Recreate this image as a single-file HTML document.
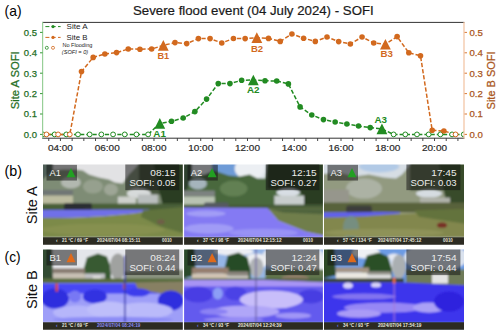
<!DOCTYPE html>
<html><head><meta charset="utf-8"><style>
html,body{margin:0;padding:0;background:#fff;}
body{width:500px;height:335px;overflow:hidden;}
svg{display:block;font-family:"Liberation Sans",sans-serif;}
</style></head><body>
<svg width="500" height="335" viewBox="0 0 500 335">
<rect width="500" height="335" fill="#fff"/>
<defs><filter id="pb" x="-5%" y="-5%" width="110%" height="110%"><feGaussianBlur stdDeviation="1.1"/></filter>
<clipPath id="c00"><rect x="43.0" y="164.5" width="139.8" height="80.2"/></clipPath>
<clipPath id="c01"><rect x="184.1" y="164.5" width="138.8" height="80.2"/></clipPath>
<clipPath id="c02"><rect x="324.0" y="164.5" width="140.0" height="80.2"/></clipPath>
<clipPath id="c10"><rect x="43.0" y="249.4" width="139.8" height="80.3"/></clipPath>
<clipPath id="c11"><rect x="184.1" y="249.4" width="138.8" height="80.3"/></clipPath>
<clipPath id="c12"><rect x="324.0" y="249.4" width="140.0" height="80.3"/></clipPath>
</defs>
<g clip-path="url(#c00)">
<g transform="translate(43.0,164.5) scale(0.9986,1.0025)">
<g filter="url(#pb)"><rect x="-6" y="-6" width="152" height="86" fill="rgb(226,226,228)" /><polygon points="-6,-6 10,-6 10,30 -6,30" fill="rgb(80,95,88)" /><polygon points="10,6 20,5 33,5 40,6 46,10 56,13 66,15 72,18 80,19 86,10 92,4 100,-6 146,-6 146,48 -6,48 -6,20" fill="rgb(126,140,116)" /><ellipse cx="28" cy="18" rx="10" ry="6" fill="rgb(178,184,176)" /><ellipse cx="50" cy="22" rx="10" ry="7" fill="rgb(150,160,142)" /><ellipse cx="68" cy="25" rx="7" ry="6" fill="rgb(158,166,150)" /><polygon points="96,-6 146,-6 146,30 96,30" fill="rgb(70,85,62)" /><polygon points="110,-6 146,-6 146,56 122,50 116,25" fill="rgb(42,62,36)" /><ellipse cx="96" cy="29" rx="12" ry="5" fill="rgb(215,218,218)" /><rect x="-6" y="25.5" width="36" height="5.5" fill="rgb(112,118,116)" /><rect x="-6" y="31" width="36" height="9" fill="rgb(188,188,160)" /><rect x="75" y="32" width="18" height="10" fill="rgb(205,208,204)" /><rect x="95" y="30" width="20" height="12" fill="rgb(185,190,190)" /><rect x="-6" y="39" width="152" height="7" fill="rgb(72,95,55)" /><rect x="21" y="38.5" width="28" height="7.5" fill="rgb(42,45,50)" rx="2"/><polygon points="-6,45.5 70,44.8 106,45 108,46.5 90,49 60,51.5 30,53 -6,54" fill="rgb(112,112,232)" /><polygon points="-6,53 30,53 60,51.5 90,49 108,46.5 146,44 146,73 -6,73" fill="rgb(124,138,74)" /><ellipse cx="60" cy="65" rx="62" ry="6" fill="rgb(134,144,80)" /><polygon points="100,46 146,42 146,70 118,62 98,52" fill="rgb(96,115,60)" /><ellipse cx="118" cy="57" rx="4" ry="2.5" fill="rgb(110,95,70)" /></g>
<rect x="-6" y="72.6" width="152" height="10" fill="rgb(44,43,34)" />
<rect x="3.5" y="0.2" width="30.5" height="15.8" fill="rgba(18,18,18,0.52)"/>
<rect x="82.4" y="-1" width="54" height="26.6" fill="rgba(18,18,18,0.52)"/>
</g>
</g>
<text x="49.6" y="175.9" font-size="9.8" fill="#f0f0f0" textLength="11.5" lengthAdjust="spacingAndGlyphs">A1</text>
<polygon points="71.0,168.0 66.5,177.3 75.5,177.3" fill="#22a022"/>
<text x="175.6" y="175.9" text-anchor="end" font-size="9.8" fill="#ececec" textLength="25.3" lengthAdjust="spacingAndGlyphs">08:15</text>
<text x="175.6" y="186.3" text-anchor="end" font-size="9.8" fill="#ececec" textLength="46.2" lengthAdjust="spacingAndGlyphs">SOFI: 0.05</text>
<text x="61.9" y="242.4" font-size="4.7" font-weight="bold" fill="#e6e6dc" textLength="26" lengthAdjust="spacingAndGlyphs">21 °C / 69 °F</text>
<text x="96.9" y="242.4" font-size="4.7" font-weight="bold" fill="#e6e6dc" textLength="43.6" lengthAdjust="spacingAndGlyphs">2024/07/04 08:15:11</text>
<text x="56.0" y="242.4" font-size="4.7" font-weight="bold" fill="#e6e6dc">‹</text>
<text x="162.0" y="242.4" font-size="4.7" font-weight="bold" fill="#e6e6dc" textLength="9.8" lengthAdjust="spacingAndGlyphs">0010</text>
<g clip-path="url(#c01)">
<g transform="translate(184.1,164.5) scale(0.9914,1.0025)">
<g filter="url(#pb)"><rect x="-6" y="-6" width="152" height="86" fill="rgb(225,230,236)" /><rect x="28" y="-6" width="27" height="18" fill="rgb(110,155,215)" /><ellipse cx="66" cy="4" rx="15" ry="11" fill="rgb(236,239,243)" /><polygon points="-6,-6 8,-6 8,40 -6,40" fill="rgb(45,65,45)" /><polygon points="8,12 21,10 30,6 36,8 45,11 56,12 66,10 74,14 82,14 84,-6 146,-6 146,46 -6,46" fill="rgb(72,104,62)" /><ellipse cx="14" cy="19" rx="9" ry="6" fill="rgb(165,180,188)" /><ellipse cx="50" cy="24" rx="14" ry="8" fill="rgb(98,128,82)" /><polygon points="84,-6 146,-6 146,56 124,50 118,28 84,24" fill="rgb(42,60,36)" /><ellipse cx="105" cy="28" rx="12" ry="4" fill="rgb(216,222,228)" /><rect x="-6" y="26" width="37" height="6" fill="rgb(125,130,128)" /><rect x="-6" y="32" width="37" height="9" fill="rgb(185,195,178)" /><rect x="91" y="31" width="30" height="12" fill="rgb(200,205,205)" /><rect x="-6" y="40" width="152" height="4" fill="rgb(70,92,56)" /><rect x="20" y="38" width="25" height="7" fill="rgb(85,90,96)" rx="2"/><polygon points="84,43.5 146,43.5 146,72 123,67 95,56" fill="rgb(112,126,76)" /><polygon points="84,44 146,44 146,50 100,48" fill="rgb(80,100,60)" /><polygon points="-6,43 84,43.5 95,56 123,67 146,72 146,73 -6,73" fill="rgb(132,122,243)" /><ellipse cx="22" cy="49" rx="20" ry="3" fill="rgb(162,157,246)" /><ellipse cx="25" cy="64" rx="25" ry="5" fill="rgb(160,155,246)" /><ellipse cx="80" cy="68" rx="35" ry="4" fill="rgb(152,146,245)" /></g>
<rect x="-6" y="72.6" width="152" height="10" fill="rgb(44,43,34)" />
<rect x="3.5" y="0.2" width="30.5" height="15.8" fill="rgba(18,18,18,0.52)"/>
<rect x="82.4" y="-1" width="54" height="26.6" fill="rgba(18,18,18,0.52)"/>
</g>
</g>
<text x="190.7" y="175.9" font-size="9.8" fill="#f0f0f0" textLength="11.5" lengthAdjust="spacingAndGlyphs">A2</text>
<polygon points="212.1,168.0 207.6,177.3 216.6,177.3" fill="#22a022"/>
<text x="316.7" y="175.9" text-anchor="end" font-size="9.8" fill="#ececec" textLength="25.3" lengthAdjust="spacingAndGlyphs">12:15</text>
<text x="316.7" y="186.3" text-anchor="end" font-size="9.8" fill="#ececec" textLength="46.2" lengthAdjust="spacingAndGlyphs">SOFI: 0.27</text>
<text x="203.0" y="242.4" font-size="4.7" font-weight="bold" fill="#e6e6dc" textLength="26" lengthAdjust="spacingAndGlyphs">37 °C / 98 °F</text>
<text x="238.0" y="242.4" font-size="4.7" font-weight="bold" fill="#e6e6dc" textLength="43.6" lengthAdjust="spacingAndGlyphs">2024/07/04 12:15:12</text>
<text x="197.1" y="242.4" font-size="4.7" font-weight="bold" fill="#e6e6dc">‹</text>
<text x="303.1" y="242.4" font-size="4.7" font-weight="bold" fill="#e6e6dc" textLength="9.8" lengthAdjust="spacingAndGlyphs">0010</text>
<g clip-path="url(#c02)">
<g transform="translate(324.0,164.5) scale(1.0000,1.0025)">
<g filter="url(#pb)"><rect x="-6" y="-6" width="152" height="86" fill="rgb(214,221,228)" /><ellipse cx="55" cy="2" rx="20" ry="6" fill="rgb(178,202,230)" /><polygon points="-6,10 15,8 30,12 45,10 60,13 72,14 78,10 84,3 90,-6 146,-6 146,48 -6,48" fill="rgb(146,154,128)" /><ellipse cx="40" cy="24" rx="18" ry="10" fill="rgb(172,178,164)" /><polygon points="86,-6 146,-6 146,26 86,26" fill="rgb(90,104,76)" /><polygon points="114,-6 146,-6 146,56 126,52 120,28" fill="rgb(56,76,44)" /><ellipse cx="105" cy="29" rx="13" ry="4" fill="rgb(214,220,225)" /><rect x="-6" y="25" width="31" height="13" fill="rgb(150,150,140)" /><rect x="96" y="33" width="30" height="12" fill="rgb(176,178,170)" /><rect x="-6" y="38" width="152" height="10" fill="rgb(88,98,58)" /><rect x="22" y="41" width="26" height="8" fill="rgb(60,62,58)" rx="3"/><polygon points="-6,52 70,49 146,47.5 146,73 -6,73" fill="rgb(130,135,78)" /><polygon points="90,46 146,44 146,60 95,52" fill="rgb(100,115,60)" /><polygon points="-6,47.8 60,47.3 76,47.6 76,48.8 40,51.5 -6,52.8" fill="rgb(96,96,236)" /><ellipse cx="27" cy="63" rx="8" ry="12" fill="rgb(118,142,128)" /><ellipse cx="60" cy="68" rx="60" ry="4" fill="rgb(142,146,88)" /><ellipse cx="118" cy="60.5" rx="5" ry="2.6" fill="rgb(120,45,40)" /></g>
<rect x="-6" y="72.6" width="152" height="10" fill="rgb(44,43,34)" />
<rect x="3.5" y="0.2" width="30.5" height="15.8" fill="rgba(18,18,18,0.52)"/>
<rect x="82.4" y="-1" width="54" height="26.6" fill="rgba(18,18,18,0.52)"/>
</g>
</g>
<text x="330.6" y="175.9" font-size="9.8" fill="#f0f0f0" textLength="11.5" lengthAdjust="spacingAndGlyphs">A3</text>
<polygon points="352.0,168.0 347.5,177.3 356.5,177.3" fill="#22a022"/>
<text x="456.6" y="175.9" text-anchor="end" font-size="9.8" fill="#ececec" textLength="25.3" lengthAdjust="spacingAndGlyphs">17:45</text>
<text x="456.6" y="186.3" text-anchor="end" font-size="9.8" fill="#ececec" textLength="46.2" lengthAdjust="spacingAndGlyphs">SOFI: 0.03</text>
<text x="342.9" y="242.4" font-size="4.7" font-weight="bold" fill="#e6e6dc" textLength="29" lengthAdjust="spacingAndGlyphs">57 °C / 134 °F</text>
<text x="377.9" y="242.4" font-size="4.7" font-weight="bold" fill="#e6e6dc" textLength="43.6" lengthAdjust="spacingAndGlyphs">2024/07/04 17:45:12</text>
<text x="337.0" y="242.4" font-size="4.7" font-weight="bold" fill="#e6e6dc">‹</text>
<text x="443.0" y="242.4" font-size="4.7" font-weight="bold" fill="#e6e6dc" textLength="9.8" lengthAdjust="spacingAndGlyphs">0010</text>
<g clip-path="url(#c10)">
<g transform="translate(43.0,249.4) scale(0.9986,1.0037)">
<g filter="url(#pb)"><rect x="-6" y="-6" width="152" height="86" fill="rgb(228,230,234)" /><polygon points="-6,-6 9,-6 10,30 -6,32" fill="rgb(50,75,50)" /><polygon points="40,22 44,8 55,4 64,7 68,18 68,30 40,30" fill="rgb(56,90,50)" /><ellipse cx="75" cy="17" rx="8" ry="13" fill="rgb(160,162,160)" /><rect x="10" y="19" width="32" height="5" fill="rgb(135,122,112)" /><rect x="10" y="24" width="32" height="8" fill="rgb(200,192,180)" /><rect x="42" y="24" width="20" height="8" fill="rgb(192,192,196)" /><rect x="50" y="27" width="8" height="5" fill="rgb(235,235,235)" /><polygon points="82,22 146,20 146,34 82,34" fill="rgb(140,148,130)" /><rect x="-6" y="29" width="152" height="5" fill="rgb(88,108,62)" /><polygon points="-6,34 92,33.5 146,35 146,73 -6,73" fill="rgb(158,158,248)" /><rect x="-6" y="34" width="152" height="10" fill="rgb(70,70,244)" /><polygon points="92,33 146,32 146,46 118,44 95,40" fill="rgb(135,128,100)" /><ellipse cx="12" cy="49" rx="14" ry="10" fill="rgb(45,45,222)" /><ellipse cx="52" cy="47" rx="12" ry="7" fill="rgb(48,48,225)" /><ellipse cx="95" cy="43" rx="12" ry="4" fill="rgb(60,60,236)" /><ellipse cx="128" cy="51" rx="13" ry="10" fill="rgb(45,45,222)" /><ellipse cx="32" cy="47" rx="6" ry="6" fill="rgb(120,120,244)" /><ellipse cx="100" cy="61" rx="30" ry="8" fill="rgb(186,186,250)" /><ellipse cx="35" cy="63" rx="25" ry="7" fill="rgb(182,182,250)" /><ellipse cx="66" cy="60" rx="22" ry="8" fill="rgb(190,190,250)" /><ellipse cx="70" cy="70" rx="60" ry="3" fill="rgb(140,140,246)" /><rect x="12.5" y="34" width="2.5" height="8" fill="rgb(215,75,40)" /><rect x="80.5" y="34" width="2.5" height="6" fill="rgb(230,100,50)" /><rect x="81.3" y="6" width="1.4" height="67" fill="rgb(50,50,170)" /></g>
<rect x="-6" y="72.6" width="152" height="10" fill="rgb(44,43,34)" />
<rect x="3.5" y="0.2" width="30.5" height="15.8" fill="rgba(18,18,18,0.52)"/>
<rect x="82.4" y="-1" width="54" height="26.6" fill="rgba(18,18,18,0.52)"/>
</g>
</g>
<text x="49.6" y="260.8" font-size="9.8" fill="#f0f0f0" textLength="11.5" lengthAdjust="spacingAndGlyphs">B1</text>
<polygon points="71.0,252.9 66.5,262.2 75.5,262.2" fill="#e06a1a"/>
<text x="175.6" y="260.8" text-anchor="end" font-size="9.8" fill="#ececec" textLength="25.3" lengthAdjust="spacingAndGlyphs">08:24</text>
<text x="175.6" y="271.2" text-anchor="end" font-size="9.8" fill="#ececec" textLength="46.2" lengthAdjust="spacingAndGlyphs">SOFI: 0.44</text>
<text x="61.9" y="327.3" font-size="4.7" font-weight="bold" fill="#e6e6dc" textLength="26" lengthAdjust="spacingAndGlyphs">21 °C / 69 °F</text>
<text x="96.9" y="327.3" font-size="4.7" font-weight="bold" fill="#8a8af0" textLength="43.6" lengthAdjust="spacingAndGlyphs">2024/07/04 08:24:19</text>
<text x="56.0" y="327.3" font-size="4.7" font-weight="bold" fill="#7c7cf0">‹</text>
<g clip-path="url(#c11)">
<g transform="translate(184.1,249.4) scale(0.9914,1.0037)">
<g filter="url(#pb)"><rect x="-6" y="-6" width="152" height="86" fill="rgb(150,182,230)" /><ellipse cx="110" cy="8" rx="32" ry="14" fill="rgb(222,228,238)" /><ellipse cx="50" cy="2" rx="20" ry="4" fill="rgb(236,238,244)" /><ellipse cx="72" cy="12" rx="12" ry="8" fill="rgb(236,238,242)" /><ellipse cx="133" cy="18" rx="10" ry="14" fill="rgb(236,238,242)" /><ellipse cx="73" cy="18" rx="7" ry="10" fill="rgb(175,178,182)" /><polygon points="-6,-6 10,-6 12,26 -6,30" fill="rgb(42,72,42)" /><polygon points="40,22 44,6 55,3 64,8 67,20 67,31 40,31" fill="rgb(40,76,38)" /><polygon points="82,20 146,20 146,36 82,36" fill="rgb(98,118,78)" /><ellipse cx="112" cy="29" rx="14" ry="4" fill="rgb(145,125,105)" /><rect x="8" y="18" width="37" height="6" fill="rgb(150,126,110)" /><rect x="8" y="24" width="37" height="7" fill="rgb(210,196,180)" /><rect x="43" y="22" width="22" height="4" fill="rgb(140,132,126)" /><rect x="43" y="26" width="22" height="5" fill="rgb(205,200,195)" /><rect x="-6" y="29" width="152" height="2" fill="rgb(72,95,60)" /><polygon points="-6,30.5 80,30.5 146,33 146,73 -6,73" fill="rgb(100,90,238)" /><polygon points="-6,30.5 80,30.5 146,33 146,37 -6,37" fill="rgb(168,148,244)" /><ellipse cx="14" cy="45" rx="15" ry="8" fill="rgb(72,62,228)" /><ellipse cx="52" cy="44" rx="11" ry="7" fill="rgb(76,66,230)" /><ellipse cx="128" cy="47" rx="13" ry="7" fill="rgb(70,60,226)" /><ellipse cx="34" cy="44" rx="5" ry="6" fill="rgb(140,158,246)" /><ellipse cx="88" cy="50" rx="32" ry="9" fill="rgb(200,190,250)" /><ellipse cx="62" cy="62" rx="34" ry="6" fill="rgb(176,166,248)" /><ellipse cx="30" cy="62" rx="14" ry="3" fill="rgb(140,130,244)" /><ellipse cx="110" cy="66" rx="18" ry="3" fill="rgb(160,150,246)" /><ellipse cx="50" cy="70" rx="30" ry="2.5" fill="rgb(150,140,245)" /><rect x="72" y="-6" width="1" height="79" fill="rgb(90,80,150)" /></g>
<rect x="-6" y="72.6" width="152" height="10" fill="rgb(44,43,34)" />
<rect x="3.5" y="0.2" width="30.5" height="15.8" fill="rgba(18,18,18,0.52)"/>
<rect x="82.4" y="-1" width="54" height="26.6" fill="rgba(18,18,18,0.52)"/>
</g>
</g>
<text x="190.7" y="260.8" font-size="9.8" fill="#f0f0f0" textLength="11.5" lengthAdjust="spacingAndGlyphs">B2</text>
<polygon points="212.1,252.9 207.6,262.2 216.6,262.2" fill="#e06a1a"/>
<text x="316.7" y="260.8" text-anchor="end" font-size="9.8" fill="#ececec" textLength="25.3" lengthAdjust="spacingAndGlyphs">12:24</text>
<text x="316.7" y="271.2" text-anchor="end" font-size="9.8" fill="#ececec" textLength="46.2" lengthAdjust="spacingAndGlyphs">SOFI: 0.47</text>
<text x="203.0" y="327.3" font-size="4.7" font-weight="bold" fill="#e6e6dc" textLength="26" lengthAdjust="spacingAndGlyphs">34 °C / 93 °F</text>
<text x="238.0" y="327.3" font-size="4.7" font-weight="bold" fill="#e6e6dc" textLength="43.6" lengthAdjust="spacingAndGlyphs">2024/07/04 12:24:39</text>
<text x="197.1" y="327.3" font-size="4.7" font-weight="bold" fill="#7c7cf0">‹</text>
<g clip-path="url(#c12)">
<g transform="translate(324.0,249.4) scale(1.0000,1.0037)">
<g filter="url(#pb)"><rect x="-6" y="-6" width="152" height="86" fill="rgb(108,155,228)" /><ellipse cx="112" cy="8" rx="32" ry="14" fill="rgb(218,226,238)" /><ellipse cx="42" cy="3" rx="14" ry="6" fill="rgb(238,240,244)" /><ellipse cx="70" cy="13" rx="10" ry="9" fill="rgb(228,232,242)" /><ellipse cx="60" cy="12" rx="8" ry="5" fill="rgb(200,215,238)" /><polygon points="-6,-6 10,-6 12,26 -6,30" fill="rgb(45,72,40)" /><polygon points="38,20 43,6 55,3 64,7 68,20 68,31 38,31" fill="rgb(42,80,40)" /><ellipse cx="75" cy="17" rx="7" ry="12" fill="rgb(170,175,178)" /><polygon points="82,20 146,20 146,40 82,40" fill="rgb(110,122,88)" /><rect x="108" y="24" width="16" height="10" fill="rgb(228,228,228)" /><rect x="12" y="18" width="33" height="5" fill="rgb(165,148,132)" /><rect x="12" y="23" width="33" height="8" fill="rgb(235,232,225)" /><rect x="43" y="22" width="24" height="3" fill="rgb(150,145,140)" /><rect x="43" y="25" width="24" height="6" fill="rgb(225,225,225)" /><rect x="-6" y="29" width="86" height="4" fill="rgb(55,65,42)" /><polygon points="-6,33 80,33 146,36 146,73 -6,73" fill="rgb(62,52,236)" /><ellipse cx="24" cy="36" rx="5" ry="3" fill="rgb(215,210,250)" /><ellipse cx="52" cy="35.5" rx="5" ry="2.5" fill="rgb(215,210,250)" /><ellipse cx="40" cy="47" rx="32" ry="3" fill="rgb(130,115,240)" /><ellipse cx="60" cy="58" rx="40" ry="5" fill="rgb(150,135,245)" /><ellipse cx="35" cy="64" rx="22" ry="4" fill="rgb(170,155,246)" /><ellipse cx="105" cy="58" rx="16" ry="5" fill="rgb(170,160,246)" /><ellipse cx="125" cy="52" rx="15" ry="10" fill="rgb(45,35,222)" /><rect x="69.7" y="28" width="1" height="45" fill="rgb(170,120,210)" /><rect x="69" y="28" width="2.4" height="6" fill="rgb(235,110,60)" /></g>
<rect x="-6" y="72.6" width="152" height="10" fill="rgb(44,43,34)" />
<rect x="3.5" y="0.2" width="30.5" height="15.8" fill="rgba(18,18,18,0.52)"/>
<rect x="82.4" y="-1" width="54" height="26.6" fill="rgba(18,18,18,0.52)"/>
</g>
</g>
<text x="330.6" y="260.8" font-size="9.8" fill="#f0f0f0" textLength="11.5" lengthAdjust="spacingAndGlyphs">B3</text>
<polygon points="352.0,252.9 347.5,262.2 356.5,262.2" fill="#e06a1a"/>
<text x="456.6" y="260.8" text-anchor="end" font-size="9.8" fill="#ececec" textLength="25.3" lengthAdjust="spacingAndGlyphs">17:54</text>
<text x="456.6" y="271.2" text-anchor="end" font-size="9.8" fill="#ececec" textLength="46.2" lengthAdjust="spacingAndGlyphs">SOFI: 0.44</text>
<text x="342.9" y="327.3" font-size="4.7" font-weight="bold" fill="#e6e6dc" textLength="26" lengthAdjust="spacingAndGlyphs">34 °C / 93 °F</text>
<text x="377.9" y="327.3" font-size="4.7" font-weight="bold" fill="#e6e6dc" textLength="43.6" lengthAdjust="spacingAndGlyphs">2024/07/04 17:54:19</text>
<text x="337.0" y="327.3" font-size="4.7" font-weight="bold" fill="#7c7cf0">‹</text>
<defs><clipPath id="ax"><rect x="42.5" y="22" width="421.5" height="116"/></clipPath></defs>
<g clip-path="url(#ax)">
<polyline points="42.92,134.40 54.61,134.40 66.30,134.40 77.98,134.40 89.67,134.40 101.37,134.40 113.06,134.40 124.75,134.40 136.44,134.40 148.12,134.40 159.81,123.40 171.50,121.30 183.19,118.00 194.88,111.60 206.57,99.10 218.26,83.60 229.95,83.60 241.64,80.30 253.33,79.95 265.02,80.80 276.71,81.00 288.40,83.90 300.09,106.90 311.78,115.00 323.47,119.60 335.16,122.00 346.85,124.00 358.54,126.00 370.23,127.60 381.92,128.90 393.61,134.40 405.30,134.40 416.99,134.40 428.68,134.40 440.38,134.40 452.06,134.40 463.75,134.40" fill="none" stroke="#228B22" stroke-width="1.5" stroke-dasharray="4.2 2"/>
<polyline points="46.42,134.40 58.11,134.40 69.80,134.40 81.49,71.60 93.18,57.40 104.87,54.00 116.56,52.60 128.25,49.00 139.94,49.20 151.63,49.00 163.32,45.40 175.01,42.60 186.70,43.60 198.39,38.60 210.08,38.60 221.77,43.00 233.46,38.50 245.15,38.60 256.84,37.65 268.53,38.40 280.22,41.40 291.91,34.00 303.60,38.20 315.29,41.40 326.98,37.00 338.67,41.60 350.36,44.00 362.05,37.00 373.74,43.00 385.43,44.25 397.12,36.60 408.81,52.80 420.50,55.80 432.19,130.30 443.88,131.00 455.57,134.40" fill="none" stroke="#D2691E" stroke-width="1.5" stroke-dasharray="4.2 2"/>
<circle cx="42.92" cy="134.40" r="2.4" fill="#fff" stroke="#228B22" stroke-width="1"/>
<circle cx="54.61" cy="134.40" r="2.4" fill="#fff" stroke="#228B22" stroke-width="1"/>
<circle cx="66.30" cy="134.40" r="2.4" fill="#fff" stroke="#228B22" stroke-width="1"/>
<circle cx="77.98" cy="134.40" r="2.4" fill="#fff" stroke="#228B22" stroke-width="1"/>
<circle cx="89.67" cy="134.40" r="2.4" fill="#fff" stroke="#228B22" stroke-width="1"/>
<circle cx="101.37" cy="134.40" r="2.4" fill="#fff" stroke="#228B22" stroke-width="1"/>
<circle cx="113.06" cy="134.40" r="2.4" fill="#fff" stroke="#228B22" stroke-width="1"/>
<circle cx="124.75" cy="134.40" r="2.4" fill="#fff" stroke="#228B22" stroke-width="1"/>
<circle cx="136.44" cy="134.40" r="2.4" fill="#fff" stroke="#228B22" stroke-width="1"/>
<circle cx="148.12" cy="134.40" r="2.4" fill="#fff" stroke="#228B22" stroke-width="1"/>
<circle cx="393.61" cy="134.40" r="2.4" fill="#fff" stroke="#228B22" stroke-width="1"/>
<circle cx="405.30" cy="134.40" r="2.4" fill="#fff" stroke="#228B22" stroke-width="1"/>
<circle cx="416.99" cy="134.40" r="2.4" fill="#fff" stroke="#228B22" stroke-width="1"/>
<circle cx="428.68" cy="134.40" r="2.4" fill="#fff" stroke="#228B22" stroke-width="1"/>
<circle cx="440.38" cy="134.40" r="2.4" fill="#fff" stroke="#228B22" stroke-width="1"/>
<circle cx="452.06" cy="134.40" r="2.4" fill="#fff" stroke="#228B22" stroke-width="1"/>
<circle cx="463.75" cy="134.40" r="2.4" fill="#fff" stroke="#228B22" stroke-width="1"/>
<circle cx="46.42" cy="134.40" r="2.4" fill="#fff" stroke="#D2691E" stroke-width="1"/>
<circle cx="58.11" cy="134.40" r="2.4" fill="#fff" stroke="#D2691E" stroke-width="1"/>
<circle cx="69.80" cy="134.40" r="2.4" fill="#fff" stroke="#D2691E" stroke-width="1"/>
<circle cx="455.57" cy="134.40" r="2.4" fill="#fff" stroke="#D2691E" stroke-width="1"/>
<circle cx="171.50" cy="121.30" r="2.8" fill="#228B22"/>
<circle cx="183.19" cy="118.00" r="2.8" fill="#228B22"/>
<circle cx="194.88" cy="111.60" r="2.8" fill="#228B22"/>
<circle cx="206.57" cy="99.10" r="2.8" fill="#228B22"/>
<circle cx="218.26" cy="83.60" r="2.8" fill="#228B22"/>
<circle cx="229.95" cy="83.60" r="2.8" fill="#228B22"/>
<circle cx="241.64" cy="80.30" r="2.8" fill="#228B22"/>
<circle cx="265.02" cy="80.80" r="2.8" fill="#228B22"/>
<circle cx="276.71" cy="81.00" r="2.8" fill="#228B22"/>
<circle cx="288.40" cy="83.90" r="2.8" fill="#228B22"/>
<circle cx="300.09" cy="106.90" r="2.8" fill="#228B22"/>
<circle cx="311.78" cy="115.00" r="2.8" fill="#228B22"/>
<circle cx="323.47" cy="119.60" r="2.8" fill="#228B22"/>
<circle cx="335.16" cy="122.00" r="2.8" fill="#228B22"/>
<circle cx="346.85" cy="124.00" r="2.8" fill="#228B22"/>
<circle cx="358.54" cy="126.00" r="2.8" fill="#228B22"/>
<circle cx="370.23" cy="127.60" r="2.8" fill="#228B22"/>
<circle cx="81.49" cy="71.60" r="2.8" fill="#D2691E"/>
<circle cx="93.18" cy="57.40" r="2.8" fill="#D2691E"/>
<circle cx="104.87" cy="54.00" r="2.8" fill="#D2691E"/>
<circle cx="116.56" cy="52.60" r="2.8" fill="#D2691E"/>
<circle cx="128.25" cy="49.00" r="2.8" fill="#D2691E"/>
<circle cx="139.94" cy="49.20" r="2.8" fill="#D2691E"/>
<circle cx="151.63" cy="49.00" r="2.8" fill="#D2691E"/>
<circle cx="175.01" cy="42.60" r="2.8" fill="#D2691E"/>
<circle cx="186.70" cy="43.60" r="2.8" fill="#D2691E"/>
<circle cx="198.39" cy="38.60" r="2.8" fill="#D2691E"/>
<circle cx="210.08" cy="38.60" r="2.8" fill="#D2691E"/>
<circle cx="221.77" cy="43.00" r="2.8" fill="#D2691E"/>
<circle cx="233.46" cy="38.50" r="2.8" fill="#D2691E"/>
<circle cx="245.15" cy="38.60" r="2.8" fill="#D2691E"/>
<circle cx="268.53" cy="38.40" r="2.8" fill="#D2691E"/>
<circle cx="280.22" cy="41.40" r="2.8" fill="#D2691E"/>
<circle cx="291.91" cy="34.00" r="2.8" fill="#D2691E"/>
<circle cx="303.60" cy="38.20" r="2.8" fill="#D2691E"/>
<circle cx="315.29" cy="41.40" r="2.8" fill="#D2691E"/>
<circle cx="326.98" cy="37.00" r="2.8" fill="#D2691E"/>
<circle cx="338.67" cy="41.60" r="2.8" fill="#D2691E"/>
<circle cx="350.36" cy="44.00" r="2.8" fill="#D2691E"/>
<circle cx="362.05" cy="37.00" r="2.8" fill="#D2691E"/>
<circle cx="373.74" cy="43.00" r="2.8" fill="#D2691E"/>
<circle cx="397.12" cy="36.60" r="2.8" fill="#D2691E"/>
<circle cx="408.81" cy="52.80" r="2.8" fill="#D2691E"/>
<circle cx="420.50" cy="55.80" r="2.8" fill="#D2691E"/>
<circle cx="432.19" cy="130.30" r="2.8" fill="#D2691E"/>
<circle cx="443.88" cy="131.00" r="2.8" fill="#D2691E"/>
<polygon points="159.81,118.10 154.41,128.70 165.22,128.70" fill="#228B22"/>
<polygon points="253.33,74.65 247.93,85.25 258.73,85.25" fill="#228B22"/>
<polygon points="381.92,123.60 376.52,134.20 387.32,134.20" fill="#228B22"/>
<polygon points="163.32,40.10 157.92,50.70 168.72,50.70" fill="#D2691E"/>
<polygon points="256.84,32.35 251.44,42.95 262.24,42.95" fill="#D2691E"/>
<polygon points="385.43,38.95 380.03,49.55 390.83,49.55" fill="#D2691E"/>
</g>
<text x="159.6" y="136.5" text-anchor="middle" font-weight="bold" font-size="9.1" fill="#228B22" textLength="12.6" lengthAdjust="spacingAndGlyphs">A1</text>
<text x="253.2" y="93.4" text-anchor="middle" font-weight="bold" font-size="9.1" fill="#228B22" textLength="12.6" lengthAdjust="spacingAndGlyphs">A2</text>
<text x="380.8" y="122.6" text-anchor="middle" font-weight="bold" font-size="9.1" fill="#228B22" textLength="12.6" lengthAdjust="spacingAndGlyphs">A3</text>
<text x="163.35" y="58.7" text-anchor="middle" font-weight="bold" font-size="9.1" fill="#D2691E" textLength="11.8" lengthAdjust="spacingAndGlyphs">B1</text>
<text x="257" y="51.5" text-anchor="middle" font-weight="bold" font-size="9.1" fill="#D2691E" textLength="12.2" lengthAdjust="spacingAndGlyphs">B2</text>
<text x="386.8" y="57.2" text-anchor="middle" font-weight="bold" font-size="9.1" fill="#D2691E" textLength="12.4" lengthAdjust="spacingAndGlyphs">B3</text>
<line x1="42" y1="22.4" x2="464.4" y2="22.4" stroke="#333" stroke-width="1"/>
<line x1="42" y1="138.2" x2="464.4" y2="138.2" stroke="#333" stroke-width="1"/>
<line x1="42.6" y1="22" x2="42.6" y2="138.6" stroke="#98cf98" stroke-width="1.2"/>
<line x1="464" y1="22" x2="464" y2="138.6" stroke="#f2c29f" stroke-width="1.2"/>
<line x1="40" y1="134.40" x2="42.5" y2="134.40" stroke="#228B22" stroke-width="0.9"/>
<text x="37" y="137.70" text-anchor="end" font-size="9.4" fill="#1f6e1f" stroke="#1f6e1f" stroke-width="0.25" textLength="13.2" lengthAdjust="spacingAndGlyphs">0.0</text>
<line x1="464.6" y1="134.40" x2="467" y2="134.40" stroke="#D2691E" stroke-width="0.9"/>
<text x="469.5" y="137.70" font-size="9.4" fill="#aa5620" stroke="#aa5620" stroke-width="0.25" textLength="13.4" lengthAdjust="spacingAndGlyphs">0.0</text>
<line x1="40" y1="114.00" x2="42.5" y2="114.00" stroke="#228B22" stroke-width="0.9"/>
<text x="37" y="117.30" text-anchor="end" font-size="9.4" fill="#1f6e1f" stroke="#1f6e1f" stroke-width="0.25" textLength="13.2" lengthAdjust="spacingAndGlyphs">0.1</text>
<line x1="464.6" y1="114.00" x2="467" y2="114.00" stroke="#D2691E" stroke-width="0.9"/>
<text x="469.5" y="117.30" font-size="9.4" fill="#aa5620" stroke="#aa5620" stroke-width="0.25" textLength="13.4" lengthAdjust="spacingAndGlyphs">0.1</text>
<line x1="40" y1="93.60" x2="42.5" y2="93.60" stroke="#228B22" stroke-width="0.9"/>
<text x="37" y="96.90" text-anchor="end" font-size="9.4" fill="#1f6e1f" stroke="#1f6e1f" stroke-width="0.25" textLength="13.2" lengthAdjust="spacingAndGlyphs">0.2</text>
<line x1="464.6" y1="93.60" x2="467" y2="93.60" stroke="#D2691E" stroke-width="0.9"/>
<text x="469.5" y="96.90" font-size="9.4" fill="#aa5620" stroke="#aa5620" stroke-width="0.25" textLength="13.4" lengthAdjust="spacingAndGlyphs">0.2</text>
<line x1="40" y1="73.20" x2="42.5" y2="73.20" stroke="#228B22" stroke-width="0.9"/>
<text x="37" y="76.50" text-anchor="end" font-size="9.4" fill="#1f6e1f" stroke="#1f6e1f" stroke-width="0.25" textLength="13.2" lengthAdjust="spacingAndGlyphs">0.3</text>
<line x1="464.6" y1="73.20" x2="467" y2="73.20" stroke="#D2691E" stroke-width="0.9"/>
<text x="469.5" y="76.50" font-size="9.4" fill="#aa5620" stroke="#aa5620" stroke-width="0.25" textLength="13.4" lengthAdjust="spacingAndGlyphs">0.3</text>
<line x1="40" y1="52.80" x2="42.5" y2="52.80" stroke="#228B22" stroke-width="0.9"/>
<text x="37" y="56.10" text-anchor="end" font-size="9.4" fill="#1f6e1f" stroke="#1f6e1f" stroke-width="0.25" textLength="13.2" lengthAdjust="spacingAndGlyphs">0.4</text>
<line x1="464.6" y1="52.80" x2="467" y2="52.80" stroke="#D2691E" stroke-width="0.9"/>
<text x="469.5" y="56.10" font-size="9.4" fill="#aa5620" stroke="#aa5620" stroke-width="0.25" textLength="13.4" lengthAdjust="spacingAndGlyphs">0.4</text>
<line x1="40" y1="32.40" x2="42.5" y2="32.40" stroke="#228B22" stroke-width="0.9"/>
<text x="37" y="35.70" text-anchor="end" font-size="9.4" fill="#1f6e1f" stroke="#1f6e1f" stroke-width="0.25" textLength="13.2" lengthAdjust="spacingAndGlyphs">0.5</text>
<line x1="464.6" y1="32.40" x2="467" y2="32.40" stroke="#D2691E" stroke-width="0.9"/>
<text x="469.5" y="35.70" font-size="9.4" fill="#aa5620" stroke="#aa5620" stroke-width="0.25" textLength="13.4" lengthAdjust="spacingAndGlyphs">0.5</text>
<line x1="48.76" y1="138.2" x2="48.76" y2="141" stroke="#333" stroke-width="0.9"/>
<line x1="60.45" y1="138.2" x2="60.45" y2="141" stroke="#333" stroke-width="0.9"/>
<line x1="72.14" y1="138.2" x2="72.14" y2="141" stroke="#333" stroke-width="0.9"/>
<line x1="83.83" y1="138.2" x2="83.83" y2="141" stroke="#333" stroke-width="0.9"/>
<line x1="95.52" y1="138.2" x2="95.52" y2="141" stroke="#333" stroke-width="0.9"/>
<line x1="107.21" y1="138.2" x2="107.21" y2="141" stroke="#333" stroke-width="0.9"/>
<line x1="118.90" y1="138.2" x2="118.90" y2="141" stroke="#333" stroke-width="0.9"/>
<line x1="130.59" y1="138.2" x2="130.59" y2="141" stroke="#333" stroke-width="0.9"/>
<line x1="142.28" y1="138.2" x2="142.28" y2="141" stroke="#333" stroke-width="0.9"/>
<line x1="153.97" y1="138.2" x2="153.97" y2="141" stroke="#333" stroke-width="0.9"/>
<line x1="165.66" y1="138.2" x2="165.66" y2="141" stroke="#333" stroke-width="0.9"/>
<line x1="177.35" y1="138.2" x2="177.35" y2="141" stroke="#333" stroke-width="0.9"/>
<line x1="189.04" y1="138.2" x2="189.04" y2="141" stroke="#333" stroke-width="0.9"/>
<line x1="200.73" y1="138.2" x2="200.73" y2="141" stroke="#333" stroke-width="0.9"/>
<line x1="212.42" y1="138.2" x2="212.42" y2="141" stroke="#333" stroke-width="0.9"/>
<line x1="224.11" y1="138.2" x2="224.11" y2="141" stroke="#333" stroke-width="0.9"/>
<line x1="235.80" y1="138.2" x2="235.80" y2="141" stroke="#333" stroke-width="0.9"/>
<line x1="247.49" y1="138.2" x2="247.49" y2="141" stroke="#333" stroke-width="0.9"/>
<line x1="259.18" y1="138.2" x2="259.18" y2="141" stroke="#333" stroke-width="0.9"/>
<line x1="270.87" y1="138.2" x2="270.87" y2="141" stroke="#333" stroke-width="0.9"/>
<line x1="282.56" y1="138.2" x2="282.56" y2="141" stroke="#333" stroke-width="0.9"/>
<line x1="294.25" y1="138.2" x2="294.25" y2="141" stroke="#333" stroke-width="0.9"/>
<line x1="305.94" y1="138.2" x2="305.94" y2="141" stroke="#333" stroke-width="0.9"/>
<line x1="317.63" y1="138.2" x2="317.63" y2="141" stroke="#333" stroke-width="0.9"/>
<line x1="329.32" y1="138.2" x2="329.32" y2="141" stroke="#333" stroke-width="0.9"/>
<line x1="341.01" y1="138.2" x2="341.01" y2="141" stroke="#333" stroke-width="0.9"/>
<line x1="352.70" y1="138.2" x2="352.70" y2="141" stroke="#333" stroke-width="0.9"/>
<line x1="364.39" y1="138.2" x2="364.39" y2="141" stroke="#333" stroke-width="0.9"/>
<line x1="376.08" y1="138.2" x2="376.08" y2="141" stroke="#333" stroke-width="0.9"/>
<line x1="387.77" y1="138.2" x2="387.77" y2="141" stroke="#333" stroke-width="0.9"/>
<line x1="399.46" y1="138.2" x2="399.46" y2="141" stroke="#333" stroke-width="0.9"/>
<line x1="411.15" y1="138.2" x2="411.15" y2="141" stroke="#333" stroke-width="0.9"/>
<line x1="422.84" y1="138.2" x2="422.84" y2="141" stroke="#333" stroke-width="0.9"/>
<line x1="434.53" y1="138.2" x2="434.53" y2="141" stroke="#333" stroke-width="0.9"/>
<line x1="446.22" y1="138.2" x2="446.22" y2="141" stroke="#333" stroke-width="0.9"/>
<line x1="457.91" y1="138.2" x2="457.91" y2="141" stroke="#333" stroke-width="0.9"/>
<text x="60.45" y="150.8" text-anchor="middle" font-size="9.4" fill="#2a2a2a" stroke="#2a2a2a" stroke-width="0.2" textLength="25" lengthAdjust="spacingAndGlyphs">04:00</text>
<text x="107.21" y="150.8" text-anchor="middle" font-size="9.4" fill="#2a2a2a" stroke="#2a2a2a" stroke-width="0.2" textLength="25" lengthAdjust="spacingAndGlyphs">06:00</text>
<text x="153.97" y="150.8" text-anchor="middle" font-size="9.4" fill="#2a2a2a" stroke="#2a2a2a" stroke-width="0.2" textLength="25" lengthAdjust="spacingAndGlyphs">08:00</text>
<text x="200.73" y="150.8" text-anchor="middle" font-size="9.4" fill="#2a2a2a" stroke="#2a2a2a" stroke-width="0.2" textLength="25" lengthAdjust="spacingAndGlyphs">10:00</text>
<text x="247.49" y="150.8" text-anchor="middle" font-size="9.4" fill="#2a2a2a" stroke="#2a2a2a" stroke-width="0.2" textLength="25" lengthAdjust="spacingAndGlyphs">12:00</text>
<text x="294.25" y="150.8" text-anchor="middle" font-size="9.4" fill="#2a2a2a" stroke="#2a2a2a" stroke-width="0.2" textLength="25" lengthAdjust="spacingAndGlyphs">14:00</text>
<text x="341.01" y="150.8" text-anchor="middle" font-size="9.4" fill="#2a2a2a" stroke="#2a2a2a" stroke-width="0.2" textLength="25" lengthAdjust="spacingAndGlyphs">16:00</text>
<text x="387.77" y="150.8" text-anchor="middle" font-size="9.4" fill="#2a2a2a" stroke="#2a2a2a" stroke-width="0.2" textLength="25" lengthAdjust="spacingAndGlyphs">18:00</text>
<text x="434.53" y="150.8" text-anchor="middle" font-size="9.4" fill="#2a2a2a" stroke="#2a2a2a" stroke-width="0.2" textLength="25" lengthAdjust="spacingAndGlyphs">20:00</text>
<text transform="translate(18.8,80.3) rotate(-90)" text-anchor="middle" font-size="11" fill="#1f6e1f" stroke="#1f6e1f" stroke-width="0.25" textLength="58" lengthAdjust="spacingAndGlyphs">Site A SOFI</text>
<text transform="translate(494.8,80.4) rotate(-90)" text-anchor="middle" font-size="11" fill="#aa5620" stroke="#aa5620" stroke-width="0.25" textLength="58" lengthAdjust="spacingAndGlyphs">Site B SOFI</text>
<text x="133" y="14.5" font-size="12.6" fill="#1a1a1a" stroke="#1a1a1a" stroke-width="0.2" textLength="240.7" lengthAdjust="spacingAndGlyphs">Severe flood event (04 July 2024) - SOFI</text>
<line x1="45.4" y1="26.6" x2="60.6" y2="26.6" stroke="#228B22" stroke-width="1" stroke-dasharray="4 2.3"/>
<circle cx="53" cy="26.6" r="1.6" fill="#228B22"/>
<line x1="45.4" y1="37.4" x2="60.6" y2="37.4" stroke="#D2691E" stroke-width="1" stroke-dasharray="4 2.3"/>
<circle cx="53" cy="37.4" r="1.6" fill="#D2691E"/>
<text x="66.6" y="29.2" font-size="7.4" fill="#222" textLength="21" lengthAdjust="spacingAndGlyphs">Site A</text>
<text x="66.6" y="40" font-size="7.4" fill="#222" textLength="20.8" lengthAdjust="spacingAndGlyphs">Site B</text>
<circle cx="46.8" cy="47.8" r="1.5" fill="#fff" stroke="#228B22" stroke-width="0.8"/>
<circle cx="53" cy="47.8" r="1.5" fill="#fff" stroke="#D2691E" stroke-width="0.8"/>
<text x="62.4" y="47.4" font-size="6" fill="#222" textLength="30" lengthAdjust="spacingAndGlyphs">No Flooding</text>
<text x="61.8" y="53.6" font-size="6" font-style="italic" fill="#222" textLength="26.4" lengthAdjust="spacingAndGlyphs">(SOFI = 0)</text>
<text x="4.6" y="16" font-size="15" fill="#000" textLength="17" lengthAdjust="spacingAndGlyphs">(a)</text>
<text x="4.6" y="176" font-size="15" fill="#000" textLength="17.5" lengthAdjust="spacingAndGlyphs">(b)</text>
<text x="4.6" y="261.6" font-size="15" fill="#000" textLength="16" lengthAdjust="spacingAndGlyphs">(c)</text>
<text transform="translate(37,205.3) rotate(-90)" text-anchor="middle" font-size="13.8" fill="#111" textLength="38" lengthAdjust="spacingAndGlyphs">Site A</text>
<text transform="translate(37,289.7) rotate(-90)" text-anchor="middle" font-size="13.8" fill="#111" textLength="38.6" lengthAdjust="spacingAndGlyphs">Site B</text>
</svg>
</body></html>
